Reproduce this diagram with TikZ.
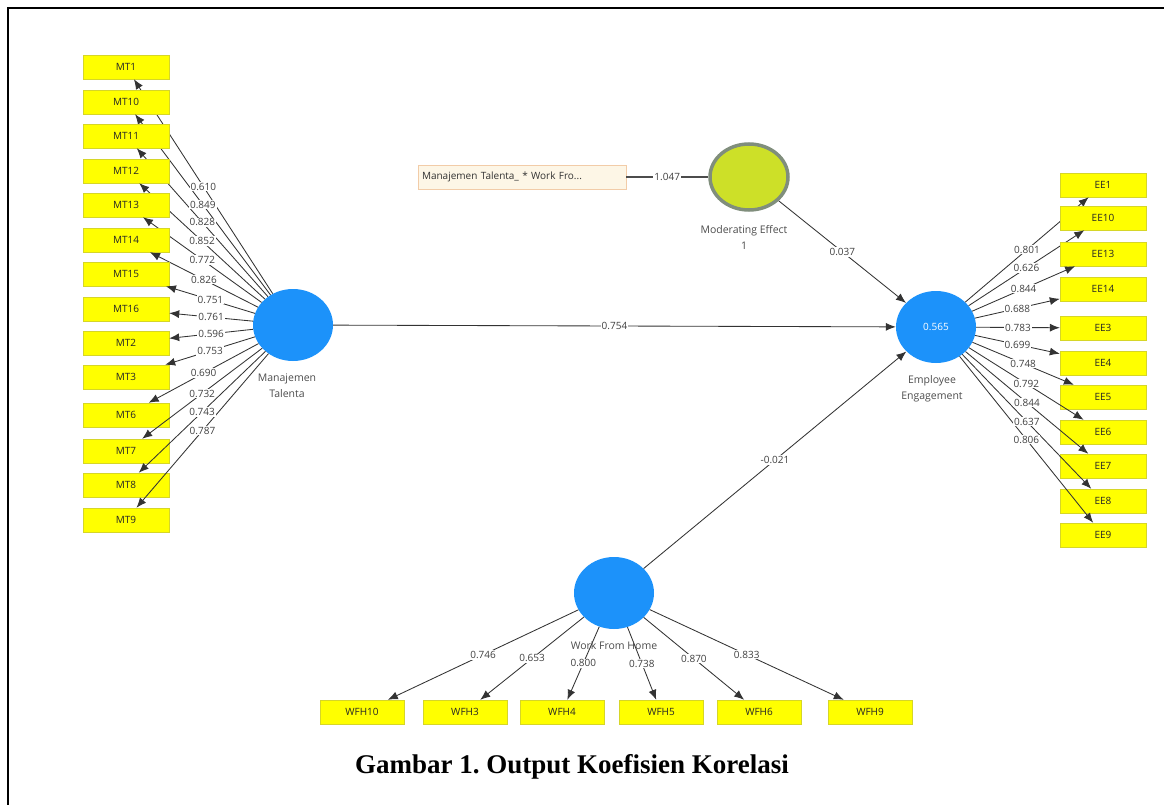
\documentclass[tikz,border=0pt]{standalone}
\usepackage{fontspec}
\setmainfont{Liberation Serif}
\newfontfamily\plsfont{Open Sans}
\usetikzlibrary{arrows.meta,shapes.geometric}

\definecolor{indyellow}{RGB}{255,255,0}
\definecolor{indborder}{RGB}{214,214,40}
\definecolor{latblue}{RGB}{28,146,250}
\definecolor{modgreen}{RGB}{205,224,40}
\definecolor{modring}{RGB}{128,142,124}
\definecolor{intfill}{RGB}{253,246,230}
\definecolor{intborder}{RGB}{242,204,168}

\tikzset{
  indicator/.style={draw=indborder,fill=indyellow,minimum width=86,minimum height=24,
    inner sep=0pt,text=black!85,font=\plsfont\fontsize{10}{12}\selectfont},
  latent/.style={ellipse,fill=latblue,minimum width=80,minimum height=72,inner sep=0pt},
  latname/.style={align=center,text=black!70,font=\plsfont\fontsize{10.5}{16}\selectfont},
  loading/.style={draw=black!80,line width=0.85pt,-{Latex[length=10pt,width=8pt]}},
  coef/.style={fill=white,inner sep=1pt,text=black!75,font=\plsfont\fontsize{10}{12}\selectfont},
  figcaption/.style={font=\bfseries\fontsize{27}{32}\selectfont}
}

\begin{document}
\frenchspacing
\begin{tikzpicture}[x=1pt,y=-1pt]
  \useasboundingbox (0,0) rectangle (1164,805);

  % frame
  \draw[line width=2.5pt] (8,805) -- (8,8) -- (1164,8);

  % latent variables
  \node[latent] (MT) at (293,325) {};
  \node[latname] (MTname) at (287,386) {Manajemen\\Talenta};

  \node[latent,text=white,font=\plsfont\fontsize{10}{12}\selectfont] (EE) at (936,327) {0.565};
  \node[latname] (EEname) at (932,389) {Employee\\Engagement};

  \node[latent] (WFH) at (614,593) {};

  \node[latent,fill=modgreen,draw=modring,line width=3.5pt,minimum width=78,minimum height=66] (ME) at (749,177) {};
  \node[latname] (MEname) at (744,237) {Moderating Effect\\1};

  \node[draw=intborder,fill=intfill,text width=200,align=left,inner xsep=4pt,minimum height=24,
    inner ysep=0pt,text=black!80,font=\plsfont\fontsize{10}{12}\selectfont] (INT) at (522,177)
    {Manajemen Talenta\_ * Work Fro...};

  % outer loadings
  \foreach \ind/\y in {MT1/67,MT10/102,MT11/136,MT12/171,MT13/205,MT14/240,MT15/274,
      MT16/309,MT2/343,MT3/377,MT6/415,MT7/451,MT8/485,MT9/520} {
    \node[indicator] (\ind) at (126,\y) {\ind};
    \draw[loading] (MT) -- (\ind);
  }
  \foreach \ind/\y in {EE1/185,EE10/218,EE13/254,EE14/289,EE3/328,EE4/363,
      EE5/397,EE6/432,EE7/466,EE8/501,EE9/535} {
    \node[indicator] (\ind) at (1103,\y) {\ind};
    \draw[loading] (EE) -- (\ind);
  }
  \foreach \ind/\x in {WFH10/362,WFH3/465,WFH4/562,WFH5/661,WFH6/759,WFH9/870} {
    \node[indicator,minimum width=84] (\ind) at (\x,712) {\ind};
    \draw[loading] (WFH) -- (\ind);
  }

  % inner model
  \draw[draw=black!70,line width=1.3pt] (INT) -- (ME);
  \draw[loading] (MT) -- (EE);
  \draw[loading] (ME) -- (EE);
  \draw[loading] (WFH) -- (EE);

  \node[latname] (WFHname) at (614,646) {Work From Home};

  % coefficients on top of the lines
  \foreach \ind/\val in {MT1/0.610,MT10/0.849,MT11/0.828,MT12/0.852,MT13/0.772,MT14/0.826,
      MT15/0.751,MT16/0.761,MT2/0.596,MT3/0.753,MT6/0.690,MT7/0.732,MT8/0.743,MT9/0.787}
    \path (MT) -- node[coef] {\val} (\ind);
  \foreach \ind/\val in {EE1/0.801,EE10/0.626,EE13/0.844,EE14/0.688,EE3/0.783,EE4/0.699,
      EE5/0.748,EE6/0.792,EE7/0.844,EE8/0.637,EE9/0.806}
    \path (EE) -- node[coef] {\val} (\ind);
  \foreach \ind/\val in {WFH10/0.746,WFH3/0.653,WFH4/0.800,WFH5/0.738,WFH6/0.870,WFH9/0.833}
    \path (WFH) -- node[coef] {\val} (\ind);

  \path (INT) -- node[coef] {1.047} (ME);
  \path (MT) -- node[coef] {0.754} (EE);
  \path (ME) -- node[coef] {0.037} (EE);
  \path (WFH) -- node[coef] {-0.021} (EE);

  \node[figcaption] (caption) at (572,767) {Gambar 1. Output Koefisien Korelasi};
\end{tikzpicture}
\end{document}
